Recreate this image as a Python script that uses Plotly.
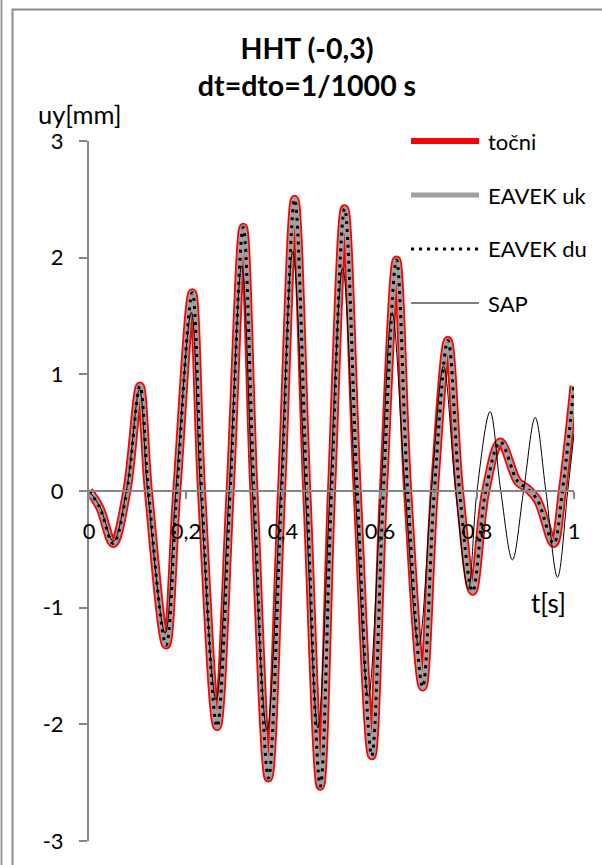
import plotly.graph_objects as go

# ---------------- data ----------------
t_main = [0.000, 0.022, 0.050, 0.078, 0.105, 0.1225, 0.159, 0.181, 0.213, 0.232,
          0.264, 0.291, 0.318, 0.340, 0.370, 0.397, 0.424, 0.449, 0.477, 0.500,
          0.527, 0.553, 0.583, 0.607, 0.634, 0.657, 0.688, 0.712, 0.740, 0.764,
          0.791, 0.818, 0.848, 0.884, 0.904, 0.925, 0.958, 0.976, 1.000]
u_tocni = [0.00, -0.14, -0.45, 0.00, 0.90, 0.00, -1.32, 0.00, 1.70, 0.00,
           -2.02, 0.00, 2.26, 0.00, -2.46, 0.00, 2.50, 0.00, -2.53, 0.00,
           2.42, 0.00, -2.27, 0.00, 1.98, 0.00, -1.68, 0.00, 1.29, 0.00,
           -0.86, 0.00, 0.42, 0.08, 0.02, -0.08, -0.45, 0.00, 0.90]
u_eavek_uk = [0.00, -0.14, -0.45, 0.00, 0.90, 0.00, -1.32, 0.00, 1.70, 0.00,
              -2.02, 0.00, 2.26, 0.00, -2.46, 0.00, 2.50, 0.00, -2.53, 0.00,
              2.42, 0.00, -2.27, 0.00, 1.98, 0.00, -1.68, 0.00, 1.29, 0.00,
              -0.86, 0.00, 0.42, 0.08, 0.02, -0.08, -0.45, 0.00, 0.90]
u_eavek_du = [0.00, -0.14, -0.45, 0.00, 0.90, 0.00, -1.32, 0.00, 1.70, 0.00,
              -2.02, 0.00, 2.26, 0.00, -2.46, 0.00, 2.50, 0.00, -2.53, 0.00,
              2.42, 0.00, -2.27, 0.00, 1.98, 0.00, -1.68, 0.00, 1.29, 0.00,
              -0.86, 0.00, 0.42, 0.08, 0.02, -0.08, -0.45, 0.00, 0.90]

t_sap = [0.000, 0.022, 0.050, 0.077, 0.104, 0.121, 0.157, 0.179, 0.211, 0.230,
         0.262, 0.289, 0.315, 0.337, 0.367, 0.395, 0.420, 0.446, 0.472, 0.497,
         0.523, 0.549, 0.576, 0.602, 0.625, 0.652, 0.680, 0.706, 0.731, 0.756,
         0.782, 0.800, 0.827, 0.849, 0.873, 0.896, 0.920, 0.942, 0.966, 0.987,
         1.000]
u_sap = [0.00, -0.13, -0.43, 0.00, 0.87, 0.00, -1.22, 0.00, 1.53, 0.00,
         -1.79, 0.00, 1.93, 0.00, -2.05, 0.00, 2.05, 0.00, -2.03, 0.00,
         1.91, 0.00, -1.76, 0.00, 1.53, 0.00, -1.32, 0.00, 1.07, 0.00,
         -0.84, 0.00, 0.68, 0.00, -0.59, 0.00, 0.63, 0.00, -0.74, 0.00,
         0.49]

series_names = ["točni", "EAVEK uk", "EAVEK du", "SAP"]
x_tick_vals = [0, 0.2, 0.4, 0.6, 0.8, 1.0]
x_tick_text = ["0", "0,2", "0,4", "0,6", "0,8", "1"]
y_tick_vals = [-3, -2, -1, 0, 1, 2, 3]
y_tick_text = ["-3", "-2", "-1", "0", "1", "2", "3"]
title_text = "HHT (-0,3)<br>dt=dto=1/1000 s"
y_title = "uy[mm]"
x_title = "t[s]"

# ---------------- styling ----------------
FONT = "Lato, Carlito, Calibri, sans-serif"
AXIS_GRAY = "#868686"
RED = "#FF0000"
GRAY = "#A0A0A0"
DOT_DASH = "3px,5px"

W, H = 602, 865
ML, MR, MT, MB = 89, 28, 141, 24
PW, PH = W - ML - MR, H - MT - MB


def px_to_paper_x(px):
    return (px - ML) / PW


def px_to_paper_y(py):
    return (H - MB - py) / PH


fig = go.Figure()
fig.add_trace(go.Scatter(x=t_main, y=u_tocni, name=series_names[0], mode="lines",
                         line=dict(color=RED, width=9, shape="spline")))
fig.add_trace(go.Scatter(x=t_main, y=u_eavek_uk, name=series_names[1], mode="lines",
                         line=dict(color=GRAY, width=5.5, shape="spline")))
fig.add_trace(go.Scatter(x=t_main, y=u_eavek_du, name=series_names[2], mode="lines",
                         line=dict(color="black", width=3, dash=DOT_DASH, shape="spline")))
fig.add_trace(go.Scatter(x=t_sap, y=u_sap, name=series_names[3], mode="lines",
                         line=dict(color="black", width=1, shape="spline")))

# legend drawn by hand (long sample lines as in the original)
legend_styles = [
    dict(color=RED, width=6),
    dict(color=GRAY, width=5),
    dict(color="black", width=3, dash=DOT_DASH),
    dict(color="black", width=1),
]
shapes = []
annotations = []
for i, (name, st) in enumerate(zip(series_names, legend_styles)):
    py = 141 + 54 * i
    shapes.append(dict(type="line", xref="paper", yref="paper",
                       x0=px_to_paper_x(411), x1=px_to_paper_x(479),
                       y0=px_to_paper_y(py), y1=px_to_paper_y(py), line=st))
    annotations.append(dict(text=name, xref="paper", yref="paper",
                            x=px_to_paper_x(486), y=px_to_paper_y(py),
                            xanchor="left", yanchor="middle", showarrow=False,
                            font=dict(family=FONT, size=22, color="black")))

# chart border (Excel chart area frame)
shapes.append(dict(type="rect", xref="paper", yref="paper",
                   x0=px_to_paper_x(12.5), x1=px_to_paper_x(640),
                   y0=px_to_paper_y(900), y1=px_to_paper_y(9.5),
                   line=dict(color="#8C8C8C", width=2), layer="below"))
shapes.append(dict(type="line", xref="paper", yref="paper",
                   x0=px_to_paper_x(1.5), x1=px_to_paper_x(1.5),
                   y0=px_to_paper_y(900), y1=px_to_paper_y(-20),
                   line=dict(color="#9A9A9A", width=2), layer="below"))

annotations.append(dict(text=y_title, xref="paper", yref="paper",
                        x=px_to_paper_x(79), y=px_to_paper_y(114),
                        xanchor="center", yanchor="middle", showarrow=False,
                        font=dict(family=FONT, size=25.5, color="black")))
annotations.append(dict(text=x_title, xref="paper", yref="paper",
                        x=px_to_paper_x(548), y=px_to_paper_y(603),
                        xanchor="center", yanchor="middle", showarrow=False,
                        font=dict(family=FONT, size=26, color="black")))

fig.update_layout(
    width=W, height=H,
    margin=dict(l=ML, r=MR, t=MT, b=MB, autoexpand=False),
    paper_bgcolor="white", plot_bgcolor="white",
    showlegend=False,
    title=dict(text=title_text, x=307 / W, xanchor="center",
               y=1 - 58.5 / H, yanchor="middle",
               font=dict(family=FONT, size=28.5, color="black", weight="bold")),
    shapes=shapes,
    annotations=annotations,
    font=dict(family=FONT, color="black"),
)

fig.update_xaxes(
    range=[0, 1], tickvals=x_tick_vals, ticktext=x_tick_text,
    showgrid=False, zeroline=False, automargin=False,
    showline=True, linecolor=AXIS_GRAY, linewidth=2,
    ticks="outside", ticklen=7, tickwidth=2, tickcolor=AXIS_GRAY,
    anchor="free", position=0.5,
    tickfont=dict(family=FONT, size=22, color="black"),
    ticklabelstandoff=14,
)
fig.update_yaxes(
    range=[-3, 3], tickvals=y_tick_vals, ticktext=y_tick_text,
    showgrid=False, zeroline=False, automargin=False,
    showline=True, linecolor=AXIS_GRAY, linewidth=2,
    ticks="outside", ticklen=8, tickwidth=2, tickcolor=AXIS_GRAY,
    tickfont=dict(family=FONT, size=22, color="black"),
    ticklabelstandoff=11,
)

fig.write_html("out.html",
               config={"displayModeBar": False},
               post_script="document.body.style.margin='0';"
                           "document.body.style.overflow='hidden';")
